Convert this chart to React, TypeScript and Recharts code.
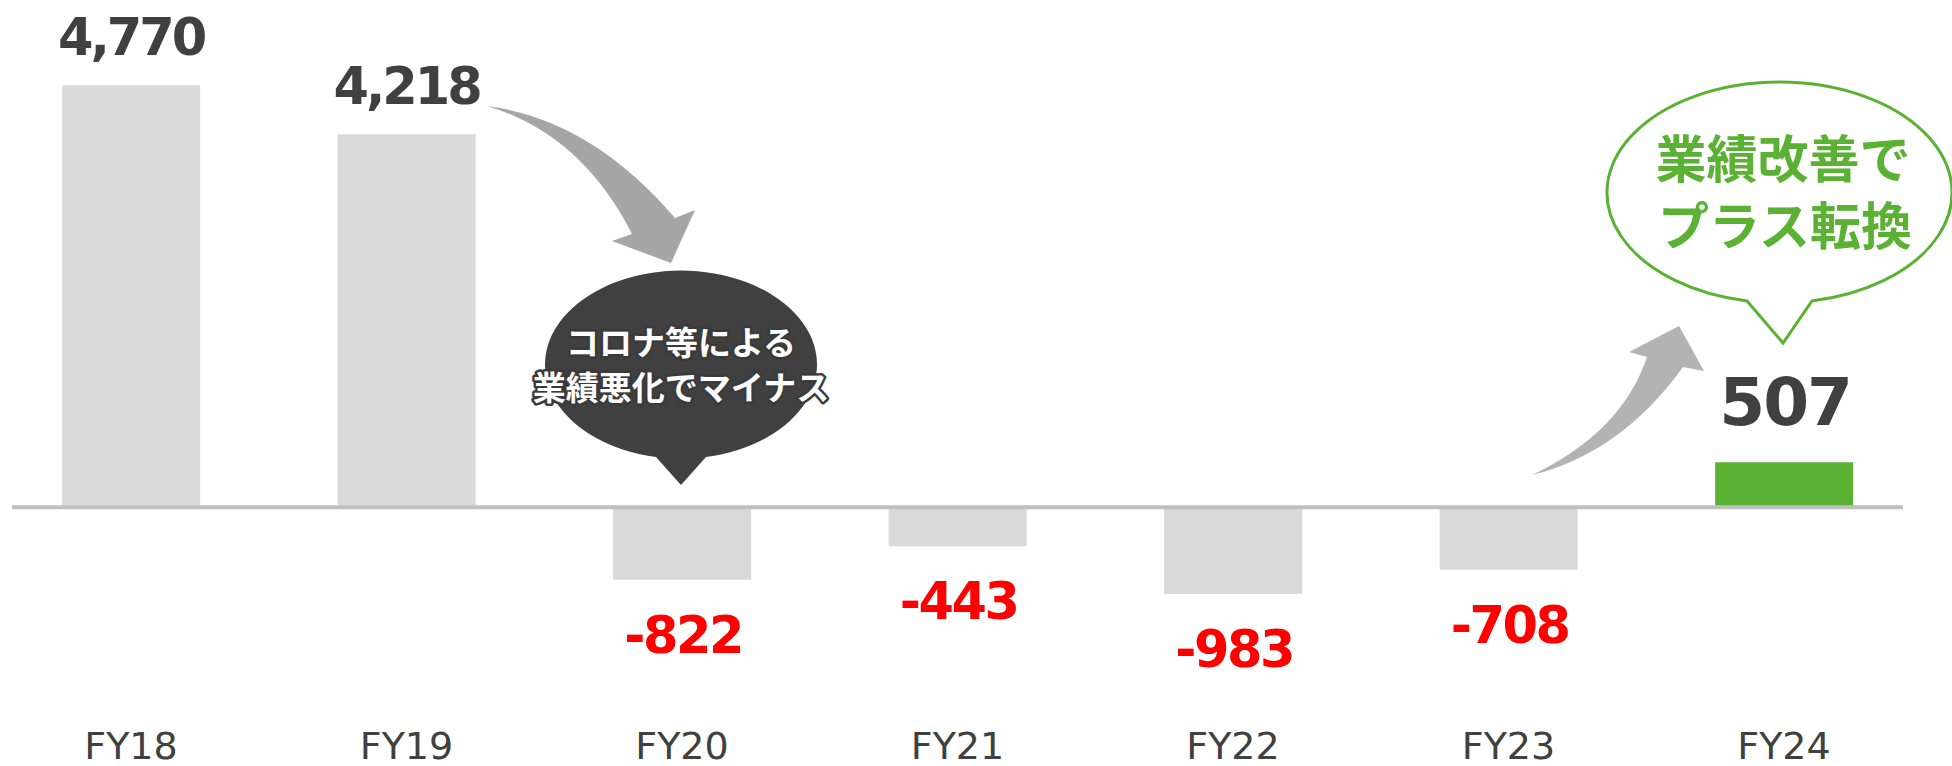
import React from 'react';
import { BarChart, Bar, XAxis, YAxis, Cell, LabelList, ReferenceLine } from 'recharts';

// ---- data ----
const categories = ['FY18', 'FY19', 'FY20', 'FY21', 'FY22', 'FY23', 'FY24'];
const values = [4770, 4218, -822, -443, -983, -708, 507];
const highlightCategory = 'FY24';
const yDomain: [number, number] = [-2000, 5000];
const noteDown = ['コロナ等による', '業績悪化でマイナス'];
const noteUp = ['業績改善で', 'プラス転換'];

const data = categories.map((c, i) => ({ category: c, value: values[i] }));

const GRAY_BAR = '#D9D9D9';
const GREEN = '#5BB133';
const DARK = '#404040';
const RED = '#FF0000';
const NUM_FONT = '"DejaVu Sans", Verdana, sans-serif';
const CJK_FONT = '"Noto Sans CJK JP", "Noto Sans", sans-serif';

const fmt = (v: number) => (v < 0 ? '-' : '') + Math.abs(v).toLocaleString('en-US');

const CategoryTick = (props: any) => {
  const { x, y, payload } = props;
  return (
    <text
      x={x}
      y={y + 75}
      textAnchor="middle"
      fontFamily={NUM_FONT}
      fontSize={38}
      fill={DARK}
    >
      {payload.value}
    </text>
  );
};

const renderLabel = (props: any) => {
  const vb = props.viewBox || {};
  const x = Number(props.x ?? vb.x);
  const y = Number(props.y ?? vb.y);
  const w = Number(props.width ?? vb.width);
  const h = Number(props.height ?? vb.height);
  const v = Number(props.value);
  const idx = props.index;
  const top = Math.min(y, y + h);
  const bottom = Math.max(y, y + h);
  const cx = x + w / 2;
  const isHi = categories[idx] === highlightCategory;
  if (v < 0) {
    return (
      <text x={cx + 1} y={bottom + 73} textAnchor="middle" fontFamily={NUM_FONT} fontWeight="bold"
        fontSize={51} letterSpacing={-2.5} fill={RED}>
        {fmt(v)}
      </text>
    );
  }
  if (isHi) {
    return (
      <text x={cx + 1} y={top - 37} textAnchor="middle" fontFamily={NUM_FONT} fontWeight="bold"
        fontSize={66} letterSpacing={-2} fill={DARK}>
        {fmt(v)}
      </text>
    );
  }
  return (
    <text x={cx} y={top - 30} textAnchor="middle" fontFamily={NUM_FONT} fontWeight="bold"
      fontSize={51} letterSpacing={-3} fill={DARK}>
      {fmt(v)}
    </text>
  );
};

const Annotations = () => (
  <svg width={1952} height={766} style={{ position: 'absolute', left: 0, top: 0, pointerEvents: 'none' }}>
    {/* downward curved arrow */}
    <path
      d="M 487 106 Q 591 119.5 675 218 L 695 210 L 671 263 L 612 241 L 632 234 Q 581 134 487 106 Z"
      fill="#A6A6A6"
    />
    {/* dark speech bubble */}
    <path d="M 706 457 A 136 94 0 1 0 656 457 L 681 485 Z" fill={DARK} />
    <g fontFamily={CJK_FONT} fontWeight={700} fontSize={33} textAnchor="middle" fill="#FFFFFF"
      stroke="#3A3A3A" strokeWidth={5} strokeLinejoin="round" style={{ paintOrder: 'stroke' }}>
      <text x={681} y={355}>{noteDown[0]}</text>
      <text x={681} y={400}>{noteDown[1]}</text>
    </g>
    {/* upward curved arrow */}
    <path
      d="M 1532 475 Q 1621 453 1683 367 L 1704 371 L 1679 326 L 1629 352 L 1647 357 Q 1622 432 1532 475 Z"
      fill="#B3B3B3"
    />
    {/* green speech bubble */}
    <path d="M 1812 301 A 172.5 110.5 0 1 0 1747 301 L 1783 343 Z" fill="#FFFFFF" stroke={GREEN}
      strokeWidth={3} strokeLinejoin="miter" />
    <g fontFamily={CJK_FONT} fontWeight={700} fontSize={51} textAnchor="middle" fill={GREEN}>
      <text x={1783} y={178}>{noteUp[0]}</text>
      <text x={1785} y={245}>{noteUp[1]}</text>
    </g>
  </svg>
);

export default function App() {
  return (
    <div style={{ position: 'absolute', left: 0, top: 0, width: 1952, height: 766, background: '#FFFFFF' }}>
      <BarChart
        width={1952}
        height={766}
        data={data}
        margin={{ top: 65, right: 49, bottom: 42, left: 12 }}
        barCategoryGap="25%"
      >
        <XAxis
          dataKey="category"
          axisLine={false}
          tickLine={false}
          tickSize={0}
          tickMargin={0}
          interval={0}
          height={40}
          padding={{ left: -18.75, right: -18.75 }}
          tick={<CategoryTick />}
        />
        <YAxis hide domain={yDomain} />
        <Bar dataKey="value" isAnimationActive={false}>
          {data.map((d) => (
            <Cell key={d.category} fill={d.category === highlightCategory ? GREEN : GRAY_BAR} />
          ))}
          <LabelList dataKey="value" content={renderLabel} />
        </Bar>
        <ReferenceLine y={0} stroke="#BFBFBF" strokeWidth={4} ifOverflow="extendDomain" />
      </BarChart>
      <Annotations />
    </div>
  );
}
